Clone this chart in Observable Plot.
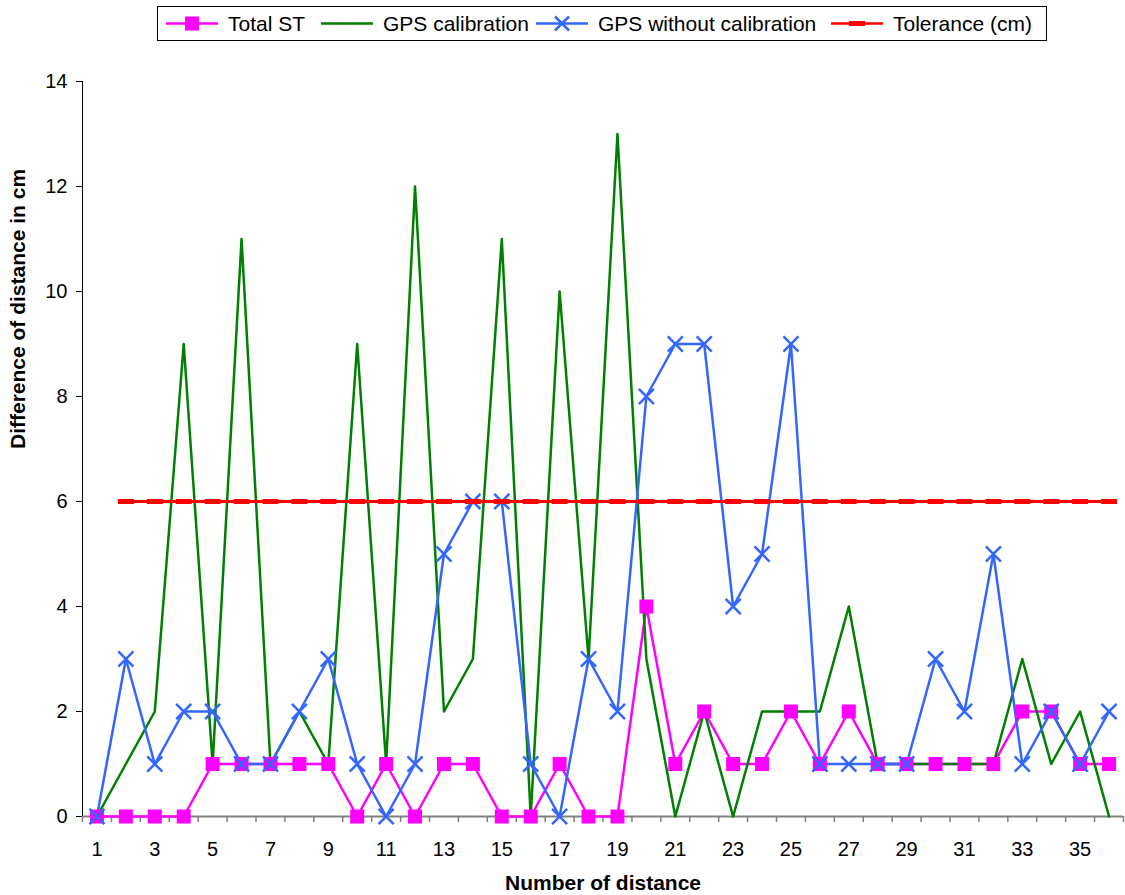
<!DOCTYPE html>
<html>
<head>
<meta charset="utf-8">
<script src="https://cdn.jsdelivr.net/npm/d3@7"></script>
<script src="https://cdn.jsdelivr.net/npm/@observablehq/plot@0.6"></script>
<style>
  html, body { margin: 0; padding: 0; background: #fff; }
  body { width: 1125px; height: 895px; overflow: hidden; font-family: "Liberation Sans", Arial, sans-serif; }
  #legend { position: relative; height: 48px; }
  #legend .box { position: absolute; left: 157px; top: 6px; width: 888px; height: 33px; border: 1px solid #000; }
  #legend .item { position: absolute; top: 0; height: 33px; display: flex; align-items: center; font-size: 21px; color: #000; white-space: nowrap; }
  #legend svg { display: block; }
  #chart svg { display: block; }
</style>
</head>
<body>
<div id="legend"></div>
<div id="chart"></div>
<script>
const categories = [1,2,3,4,5,6,7,8,9,10,11,12,13,14,15,16,17,18,19,20,21,22,23,24,25,26,27,28,29,30,31,32,33,34,35,36];
const tickLabels = [1,3,5,7,9,11,13,15,17,19,21,23,25,27,29,31,33,35];
const yTicks = [0,2,4,6,8,10,12,14];
const totalST = [0,0,0,0,1,1,1,1,1,0,1,0,1,1,0,0,1,0,0,4,1,2,1,1,2,1,2,1,1,1,1,1,2,2,1,1];
const gpsCalibration = [0,1,2,9,1,11,1,2,1,9,1,12,2,3,11,0,10,3,13,3,0,2,0,2,2,2,4,1,1,1,1,1,3,1,2,0];
const gpsWithoutCalibration = [0,3,1,2,2,1,1,2,3,1,0,1,5,6,6,1,0,3,2,8,9,9,4,5,9,1,1,1,1,3,2,5,1,2,1,2];
const tolerance = [null,6,6,6,6,6,6,6,6,6,6,6,6,6,6,6,6,6,6,6,6,6,6,6,6,6,6,6,6,6,6,6,6,6,6,6];
const seriesNames = ["Total ST", "GPS calibration", "GPS without calibration", "Tolerance (cm)"];

const colors = {st: "#FF00FF", cal: "#008000", nocal: "#3366FF", tol: "#FF0000"};

const stRows = categories.map((c, i) => ({x: c, y: totalST[i]}));
const calRows = categories.map((c, i) => ({x: c, y: gpsCalibration[i]}));
const nocalRows = categories.map((c, i) => ({x: c, y: gpsWithoutCalibration[i]}));
const tolRows = categories.map((c, i) => ({x: c, y: tolerance[i]})).filter(d => d.y != null);

const dashSymbol = {draw(ctx) { ctx.rect(-8, -2.5, 16, 5); }};

// Legend
const legend = document.getElementById("legend");
const box = document.createElement("div"); box.className = "box"; legend.appendChild(box);
const legendItems = [
  {name: seriesNames[0], left: 8, color: colors.st, marker: "square"},
  {name: seriesNames[1], left: 163, color: colors.cal, marker: null},
  {name: seriesNames[2], left: 378, color: colors.nocal, marker: "times"},
  {name: seriesNames[3], left: 673, color: colors.tol, marker: "dash"}
];
for (const it of legendItems) {
  const div = document.createElement("div");
  div.className = "item";
  div.style.left = it.left + "px";
  let m = "";
  if (it.marker === "square") m = `<rect x="19" y="3.5" width="14" height="14" fill="${it.color}"/>`;
  if (it.marker === "times") m = `<path d="M19,3.5L33,17.5M33,3.5L19,17.5" stroke="${it.color}" stroke-width="2.5"/>`;
  if (it.marker === "dash") m = `<rect x="18" y="8" width="16" height="5" fill="${it.color}"/>`;
  div.innerHTML = `<svg width="52" height="21"><line x1="0" x2="52" y1="10.5" y2="10.5" stroke="${it.color}" stroke-width="2.5"/>${m}</svg><span style="margin-left:10px">${it.name}</span>`;
  box.appendChild(div);
}

const font = "Liberation Sans, Arial, sans-serif";
const chart = Plot.plot({
  width: 1125,
  height: 847,
  marginLeft: 82,
  marginRight: 2,
  marginTop: 33,
  marginBottom: 79,
  style: {fontFamily: font, fontSize: "20px", color: "#000", background: "#fff"},
  x: {type: "linear", domain: [0.5, 36.5]},
  y: {domain: [0, 14]},
  marks: [
    Plot.axisY({ticks: yTicks, tickSize: 6, tickPadding: 9, label: null, fontSize: 20, stroke: "#000"}),
    Plot.axisX({ticks: tickLabels, tickSize: 0, tickPadding: 25, label: null, fontSize: 20}),
    Plot.axisX({ticks: d3.range(0.5, 37, 1), tickSize: 6, tickFormat: () => "", label: null, stroke: "#808080", strokeWidth: 1.5}),
    Plot.ruleY([0], {stroke: "#808080", strokeWidth: 2}),
    Plot.ruleX([0.5], {stroke: "#000", strokeWidth: 1}),
    Plot.line(stRows, {x: "x", y: "y", stroke: colors.st, strokeWidth: 2.5}),
    Plot.line(calRows, {x: "x", y: "y", stroke: colors.cal, strokeWidth: 2.5}),
    Plot.line(nocalRows, {x: "x", y: "y", stroke: colors.nocal, strokeWidth: 2.5}),
    Plot.line(tolRows, {x: "x", y: "y", stroke: colors.tol, strokeWidth: 3}),
    Plot.dot(stRows, {x: "x", y: "y", symbol: "square", r: 7.9, fill: colors.st, stroke: "none"}),
    Plot.dot(nocalRows, {x: "x", y: "y", symbol: "times", r: 6.9, stroke: colors.nocal, strokeWidth: 2.5}),
    Plot.dot(tolRows, {x: "x", y: "y", symbol: dashSymbol, fill: colors.tol, stroke: "none"}),
    Plot.text(["Number of distance"], {frameAnchor: "bottom", dy: 73, fontSize: 21, fontWeight: "bold", fill: "#000"}),
    Plot.text(["Difference of distance in cm"], {frameAnchor: "left", dx: -64, rotate: -90, fontSize: 21, fontWeight: "bold", fill: "#000"})
  ]
});
document.getElementById("chart").appendChild(chart);
</script>
</body>
</html>
